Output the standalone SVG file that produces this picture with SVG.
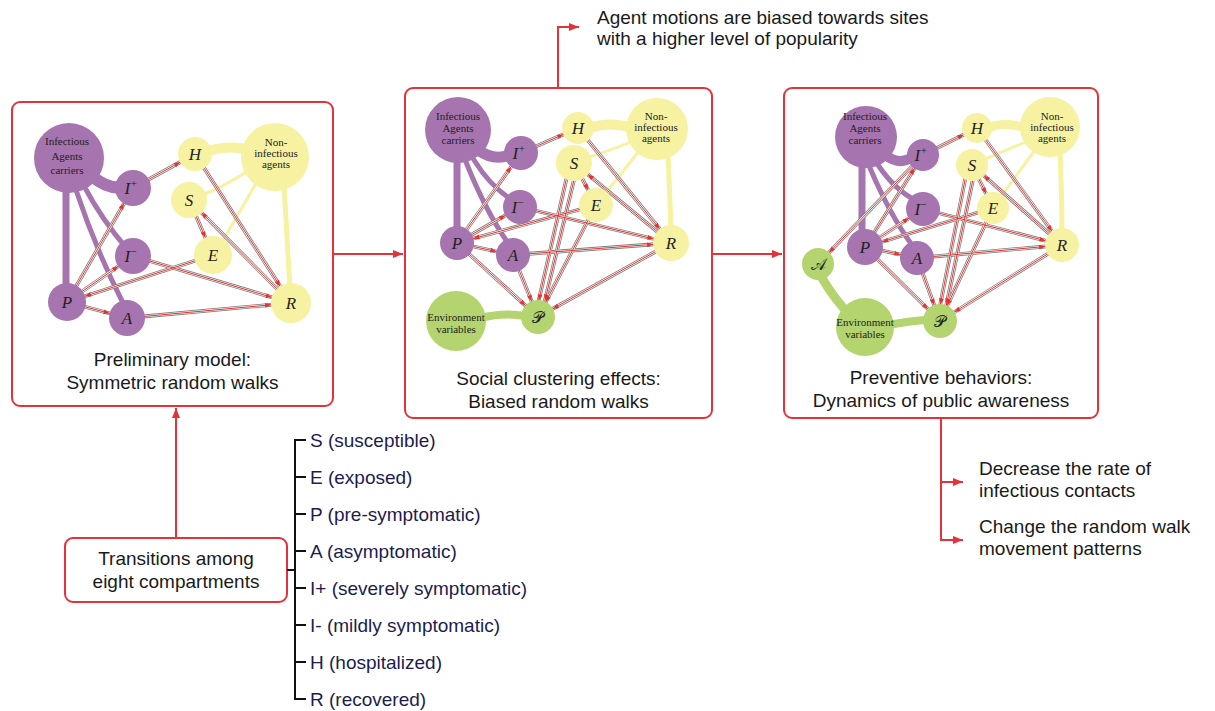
<svg xmlns="http://www.w3.org/2000/svg" width="1215" height="711" viewBox="0 0 1215 711">
<defs>
<style>
.panel{fill:#fff;stroke:#e5323a;stroke-width:2}
.flow{fill:none;stroke:#e5323a;stroke-width:2}
.brk{fill:none;stroke:#111;stroke-width:2}
.cap{font-family:"Liberation Sans",Arial,sans-serif;font-size:19px;fill:#1a1a1a;text-anchor:middle}
.note{font-family:"Liberation Sans",Arial,sans-serif;font-size:19px;fill:#1a1a1a}
.lst{font-family:"Liberation Sans",Arial,sans-serif;font-size:19px;fill:#1c1c4f}
.pu{fill:#a674ae}.ye{fill:#f6f2a2}.gr{fill:#b4d46f}
.lk{fill:none;stroke-linecap:round}
.lpu{stroke:#a674ae}.lye{stroke:#f6f2a2}.lgr{stroke:#b4d46f}
.eg{fill:none;stroke:#7d7d7d;stroke-width:3.8}
.ew{fill:none;stroke:#fff;stroke-width:2.2}
.er{fill:none;stroke:#e8302c;stroke-width:1}
.nl{font-family:"Liberation Serif","Times New Roman",serif;font-style:italic;font-size:17px;fill:#222;text-anchor:middle}
.sup{font-size:11px}
.sc{font-family:"DejaVu Serif","Liberation Serif",serif;font-size:16px;fill:#222;text-anchor:middle}
.gl{font-family:"Liberation Serif","Times New Roman",serif;font-size:11px;fill:#222;text-anchor:middle}
</style>
<marker id="ah" markerUnits="userSpaceOnUse" markerWidth="12" markerHeight="10" refX="10" refY="5" orient="auto"><path d="M0,1 L10,5 L0,9 z" fill="#e5323a"/></marker>
<marker id="m15" markerUnits="userSpaceOnUse" orient="auto" refX="15" refY="0" style="overflow:visible"><path d="M-6,-2.4 L0,0 L-6,2.4 z" fill="#e8302c"/></marker>
<marker id="m16" markerUnits="userSpaceOnUse" orient="auto" refX="16" refY="0" style="overflow:visible"><path d="M-6,-2.4 L0,0 L-6,2.4 z" fill="#e8302c"/></marker>
<marker id="m17" markerUnits="userSpaceOnUse" orient="auto" refX="17" refY="0" style="overflow:visible"><path d="M-6,-2.4 L0,0 L-6,2.4 z" fill="#e8302c"/></marker>
<marker id="m18" markerUnits="userSpaceOnUse" orient="auto" refX="18" refY="0" style="overflow:visible"><path d="M-6,-2.4 L0,0 L-6,2.4 z" fill="#e8302c"/></marker>
<marker id="m19" markerUnits="userSpaceOnUse" orient="auto" refX="19" refY="0" style="overflow:visible"><path d="M-6,-2.4 L0,0 L-6,2.4 z" fill="#e8302c"/></marker>
<marker id="m20" markerUnits="userSpaceOnUse" orient="auto" refX="20" refY="0" style="overflow:visible"><path d="M-6,-2.4 L0,0 L-6,2.4 z" fill="#e8302c"/></marker>
<!-- panel 1 edges -->
<path id="a1" d="M133,188 L195,154"/>
<path id="a2" d="M67,302 L133,188"/>
<path id="a3" d="M67,302 L133,256"/>
<path id="a4" d="M213,255 L67,302"/>
<path id="a5" d="M67,302 L127,318"/>
<path id="a6" d="M127,318 L291,303"/>
<path id="a7" d="M133,256 L291,303"/>
<path id="a8" d="M195,154 L291,303"/>
<path id="a9" d="M291,303 L189,200"/>
<path id="a10" d="M189,200 L213,255"/>
<!-- panel 2 edges -->
<path id="b1" d="M521,153 L578,128"/>
<path id="b2" d="M457,243 L521,153"/>
<path id="b3" d="M457,243 L520,207"/>
<path id="b4" d="M596,205 L457,243"/>
<path id="b5" d="M457,243 L513,255"/>
<path id="b6" d="M513,255 L671,243"/>
<path id="b7" d="M520,207 L671,243"/>
<path id="b8" d="M578,128 L671,243"/>
<path id="b9" d="M671,243 L574,163"/>
<path id="b10" d="M574,163 L596,205"/>
<path id="b11" d="M457,243 L538,317"/>
<path id="b12" d="M513,255 L538,317"/>
<path id="b13" d="M570,163 L535,317"/>
<path id="b14" d="M596,205 L538,317"/>
<path id="b15" d="M671,243 L538,317"/>
<path id="b16" d="M578,163 L541,317"/>
<!-- panel 3 edges -->
<path id="c1" d="M923,155 L977,128"/>
<path id="c2" d="M865,247 L923,155"/>
<path id="c3" d="M865,247 L923,209"/>
<path id="c4" d="M993,208 L865,247"/>
<path id="c5" d="M865,247 L917,258"/>
<path id="c6" d="M917,258 L1062,245"/>
<path id="c7" d="M923,209 L1062,245"/>
<path id="c8" d="M977,128 L1062,245"/>
<path id="c9" d="M1062,245 L972,165"/>
<path id="c10" d="M972,165 L993,208"/>
<path id="c11" d="M865,247 L940,321"/>
<path id="c12" d="M917,258 L940,321"/>
<path id="c13" d="M968,165 L937,321"/>
<path id="c14" d="M993,208 L940,321"/>
<path id="c15" d="M1062,245 L940,321"/>
<path id="c16" d="M923,155 L818,264"/>
<path id="c17" d="M976,165 L943,321"/>
</defs>

<rect width="1215" height="711" fill="#fff"/>

<!-- panels -->
<g id="panel1">
<rect class="panel" x="12" y="102" width="321" height="304" rx="8"/>
<text class="cap" x="172.5" y="366">Preliminary model:</text>
<text class="cap" x="172.5" y="389">Symmetric random walks</text>
</g>
<g id="panel2">
<rect class="panel" x="405" y="88" width="307" height="330" rx="8"/>
<text class="cap" x="558.5" y="385">Social clustering effects:</text>
<text class="cap" x="558.5" y="408">Biased random walks</text>
</g>
<g id="panel3">
<rect class="panel" x="784" y="88" width="314" height="330" rx="8"/>
<text class="cap" x="941" y="384">Preventive behaviors:</text>
<text class="cap" x="941" y="407">Dynamics of public awareness</text>
</g>

<!-- group links (blobs) -->
<g id="blob-links" class="lk">
<path class="lpu" stroke-width="12" d="M92,176 Q110,192 130,186"/>
<path class="lpu" stroke-width="7" d="M66,185 L66,290"/>
<path class="lpu" stroke-width="5" d="M84,186 Q102,220 128,250"/>
<path class="lpu" stroke-width="5" d="M76,190 Q96,250 124,305"/>
<path class="lye" stroke-width="10" d="M250,150 Q228,144 205,152"/>
<path class="lye" stroke-width="3" d="M252,168 Q226,186 200,196"/>
<path class="lye" stroke-width="3" d="M258,180 L222,242"/>
<path class="lye" stroke-width="5" d="M284,185 Q287,240 290,290"/>

<path class="lpu" stroke-width="11" d="M478,150 Q495,162 512,154"/>
<path class="lpu" stroke-width="7" d="M457,160 L457,230"/>
<path class="lpu" stroke-width="5" d="M474,160 Q490,186 512,200"/>
<path class="lpu" stroke-width="5" d="M466,162 Q485,210 508,243"/>
<path class="lye" stroke-width="10" d="M632,128 Q610,121 590,128"/>
<path class="lye" stroke-width="3" d="M635,140 Q610,151 585,158"/>
<path class="lye" stroke-width="3" d="M640,150 L604,195"/>
<path class="lye" stroke-width="5" d="M668,155 Q670,200 671,230"/>
<path class="lgr" stroke-width="8" d="M480,318 Q505,312 525,316"/>

<path class="lpu" stroke-width="10" d="M885,155 Q900,166 912,157"/>
<path class="lpu" stroke-width="7" d="M862,165 L862,232"/>
<path class="lpu" stroke-width="5" d="M878,165 Q895,190 915,200"/>
<path class="lpu" stroke-width="5" d="M870,168 Q890,215 912,245"/>
<path class="lye" stroke-width="9" d="M1025,128 Q1005,121 988,128"/>
<path class="lye" stroke-width="3" d="M1030,140 Q1005,151 983,160"/>
<path class="lye" stroke-width="3" d="M1035,150 L1000,198"/>
<path class="lye" stroke-width="5" d="M1060,152 Q1062,200 1062,232"/>
<path class="lgr" stroke-width="9" d="M822,278 Q835,300 850,315"/>
<path class="lgr" stroke-width="8" d="M888,325 Q910,321 925,320"/>
</g>

<!-- transition edges -->
<g id="edges">
<g class="eg">
<use href="#a1"/><use href="#a2"/><use href="#a3"/><use href="#a4"/><use href="#a5"/><use href="#a6"/><use href="#a7"/><use href="#a8"/><use href="#a9"/><use href="#a10"/>
<use href="#b1"/><use href="#b2"/><use href="#b3"/><use href="#b4"/><use href="#b5"/><use href="#b6"/><use href="#b7"/><use href="#b8"/><use href="#b9"/><use href="#b10"/><use href="#b11"/><use href="#b12"/><use href="#b13"/><use href="#b14"/><use href="#b15"/><use href="#b16"/>
<use href="#c1"/><use href="#c2"/><use href="#c3"/><use href="#c4"/><use href="#c5"/><use href="#c6"/><use href="#c7"/><use href="#c8"/><use href="#c9"/><use href="#c10"/><use href="#c11"/><use href="#c12"/><use href="#c13"/><use href="#c14"/><use href="#c15"/><use href="#c16"/><use href="#c17"/>
</g>
<g class="ew">
<use href="#a1"/><use href="#a2"/><use href="#a3"/><use href="#a4"/><use href="#a5"/><use href="#a6"/><use href="#a7"/><use href="#a8"/><use href="#a9"/><use href="#a10"/>
<use href="#b1"/><use href="#b2"/><use href="#b3"/><use href="#b4"/><use href="#b5"/><use href="#b6"/><use href="#b7"/><use href="#b8"/><use href="#b9"/><use href="#b10"/><use href="#b11"/><use href="#b12"/><use href="#b13"/><use href="#b14"/><use href="#b15"/><use href="#b16"/>
<use href="#c1"/><use href="#c2"/><use href="#c3"/><use href="#c4"/><use href="#c5"/><use href="#c6"/><use href="#c7"/><use href="#c8"/><use href="#c9"/><use href="#c10"/><use href="#c11"/><use href="#c12"/><use href="#c13"/><use href="#c14"/><use href="#c15"/><use href="#c16"/><use href="#c17"/>
</g>
<g class="er">
<use href="#a1" marker-end="url(#m17)"/><use href="#a2" marker-end="url(#m18)"/><use href="#a3" marker-end="url(#m18)"/><use href="#a4" marker-end="url(#m19)"/><use href="#a5" marker-end="url(#m18)"/><use href="#a6" marker-end="url(#m20)"/><use href="#a7" marker-end="url(#m20)"/><use href="#a8" marker-end="url(#m20)"/><use href="#a9" marker-end="url(#m18)"/><use href="#a10" marker-end="url(#m19)"/>
<use href="#b1" marker-end="url(#m16)"/><use href="#b2" marker-end="url(#m17)"/><use href="#b3" marker-end="url(#m17)"/><use href="#b4" marker-end="url(#m17)"/><use href="#b5" marker-end="url(#m17)"/><use href="#b6" marker-end="url(#m18)"/><use href="#b7" marker-end="url(#m18)"/><use href="#b8" marker-end="url(#m18)"/><use href="#b9" marker-end="url(#m18)"/><use href="#b10" marker-end="url(#m17)"/><use href="#b11" marker-end="url(#m17)"/><use href="#b12" marker-end="url(#m17)"/><use href="#b13" marker-end="url(#m17)"/><use href="#b14" marker-end="url(#m17)"/><use href="#b15" marker-end="url(#m17)"/><use href="#b16" marker-end="url(#m17)"/>
<use href="#c1" marker-end="url(#m15)"/><use href="#c2" marker-end="url(#m16)"/><use href="#c3" marker-end="url(#m17)"/><use href="#c4" marker-end="url(#m18)"/><use href="#c5" marker-end="url(#m17)"/><use href="#c6" marker-end="url(#m17)"/><use href="#c7" marker-end="url(#m17)"/><use href="#c8" marker-end="url(#m17)"/><use href="#c9" marker-end="url(#m16)"/><use href="#c10" marker-end="url(#m16)"/><use href="#c11" marker-end="url(#m17)"/><use href="#c12" marker-end="url(#m17)"/><use href="#c13" marker-end="url(#m17)"/><use href="#c14" marker-end="url(#m17)"/><use href="#c15" marker-end="url(#m17)"/><use href="#c16" marker-end="url(#m16)"/><use href="#c17" marker-end="url(#m17)"/>
</g>
</g>

<!-- panel 1 nodes -->
<g id="p1-carriers"><circle class="pu" cx="69" cy="158" r="35"/><text class="gl" x="67" y="145" font-size="12">Infectious</text><text class="gl" x="67" y="160" font-size="12">Agents</text><text class="gl" x="67" y="174" font-size="12">carriers</text></g>
<g id="p1-Iplus"><circle class="pu" cx="133" cy="188" r="18"/><text class="nl" x="131" y="194">I<tspan class="sup" dy="-7">+</tspan></text></g>
<g id="p1-Iminus"><circle class="pu" cx="133" cy="256" r="18"/><text class="nl" x="131" y="262">I<tspan class="sup" dy="-7">−</tspan></text></g>
<g id="p1-P"><circle class="pu" cx="67" cy="302" r="19"/><text class="nl" x="67" y="308">P</text></g>
<g id="p1-A"><circle class="pu" cx="127" cy="318" r="18"/><text class="nl" x="127" y="324">A</text></g>
<g id="p1-H"><circle class="ye" cx="195" cy="154" r="17"/><text class="nl" x="195" y="160">H</text></g>
<g id="p1-S"><circle class="ye" cx="189" cy="200" r="18"/><text class="nl" x="189" y="206">S</text></g>
<g id="p1-E"><circle class="ye" cx="213" cy="255" r="19"/><text class="nl" x="213" y="261">E</text></g>
<g id="p1-R"><circle class="ye" cx="291" cy="303" r="20"/><text class="nl" x="291" y="309">R</text></g>
<g id="p1-noninf"><circle class="ye" cx="275" cy="157" r="34"/><text class="gl" x="276" y="146" font-size="12">Non-</text><text class="gl" x="276" y="157" font-size="12">infectious</text><text class="gl" x="276" y="168" font-size="12">agents</text></g>

<!-- panel 2 nodes -->
<g id="p2-carriers"><circle class="pu" cx="458" cy="130" r="33"/><text class="gl" x="458" y="120">Infectious</text><text class="gl" x="458" y="132">Agents</text><text class="gl" x="458" y="144">carriers</text></g>
<g id="p2-Iplus"><circle class="pu" cx="521" cy="153" r="17"/><text class="nl" x="519" y="159">I<tspan class="sup" dy="-7">+</tspan></text></g>
<g id="p2-Iminus"><circle class="pu" cx="520" cy="207" r="17"/><text class="nl" x="518" y="213">I<tspan class="sup" dy="-7">−</tspan></text></g>
<g id="p2-P"><circle class="pu" cx="457" cy="243" r="17"/><text class="nl" x="457" y="249">P</text></g>
<g id="p2-A"><circle class="pu" cx="513" cy="255" r="17"/><text class="nl" x="513" y="261">A</text></g>
<g id="p2-H"><circle class="ye" cx="578" cy="128" r="16"/><text class="nl" x="578" y="134">H</text></g>
<g id="p2-S"><circle class="ye" cx="574" cy="163" r="18"/><text class="nl" x="574" y="169">S</text></g>
<g id="p2-E"><circle class="ye" cx="596" cy="205" r="17"/><text class="nl" x="596" y="211">E</text></g>
<g id="p2-R"><circle class="ye" cx="671" cy="243" r="18"/><text class="nl" x="671" y="249">R</text></g>
<g id="p2-noninf"><circle class="ye" cx="657" cy="129" r="31"/><text class="gl" x="656" y="120">Non-</text><text class="gl" x="656" y="131">infectious</text><text class="gl" x="656" y="142">agents</text></g>
<g id="p2-Pscript"><circle class="gr" cx="538" cy="317" r="17"/><text class="sc" x="538" y="323">𝒫</text></g>
<g id="p2-env"><circle class="gr" cx="456" cy="321" r="30"/><text class="gl" x="456" y="321">Environment</text><text class="gl" x="456" y="333">variables</text></g>

<!-- panel 3 nodes -->
<g id="p3-carriers"><circle class="pu" cx="866" cy="137" r="31"/><text class="gl" x="865" y="120">Infectious</text><text class="gl" x="865" y="132">Agents</text><text class="gl" x="865" y="144">carriers</text></g>
<g id="p3-Iplus"><circle class="pu" cx="923" cy="155" r="16"/><text class="nl" x="921" y="161">I<tspan class="sup" dy="-7">+</tspan></text></g>
<g id="p3-Iminus"><circle class="pu" cx="923" cy="209" r="17"/><text class="nl" x="921" y="215">I<tspan class="sup" dy="-7">−</tspan></text></g>
<g id="p3-P"><circle class="pu" cx="865" cy="247" r="18"/><text class="nl" x="865" y="253">P</text></g>
<g id="p3-A"><circle class="pu" cx="917" cy="258" r="17"/><text class="nl" x="917" y="264">A</text></g>
<g id="p3-H"><circle class="ye" cx="977" cy="128" r="15"/><text class="nl" x="977" y="134">H</text></g>
<g id="p3-S"><circle class="ye" cx="972" cy="165" r="16"/><text class="nl" x="972" y="171">S</text></g>
<g id="p3-E"><circle class="ye" cx="993" cy="208" r="16"/><text class="nl" x="993" y="214">E</text></g>
<g id="p3-R"><circle class="ye" cx="1062" cy="245" r="17"/><text class="nl" x="1062" y="251">R</text></g>
<g id="p3-noninf"><circle class="ye" cx="1050" cy="127" r="30"/><text class="gl" x="1052" y="120">Non-</text><text class="gl" x="1052" y="131">infectious</text><text class="gl" x="1052" y="142">agents</text></g>
<g id="p3-Ascript"><circle class="gr" cx="818" cy="264" r="16"/><text class="sc" x="818" y="270">𝒜</text></g>
<g id="p3-Pscript"><circle class="gr" cx="940" cy="321" r="17"/><text class="sc" x="940" y="327">𝒫</text></g>
<g id="p3-env"><circle class="gr" cx="865" cy="327" r="29"/><text class="gl" x="865" y="326">Environment</text><text class="gl" x="865" y="338">variables</text></g>

<!-- annotations -->
<g id="note-top"><text class="note" x="597" y="24">Agent motions are biased towards sites</text><text class="note" x="597" y="45">with a higher level of popularity</text></g>
<g id="note-right"><text class="note" x="979" y="475">Decrease the rate of</text><text class="note" x="979" y="497">infectious contacts</text><text class="note" x="979" y="533">Change the random walk</text><text class="note" x="979" y="555">movement patterns</text></g>
<g id="transitions-box"><rect class="panel" x="65" y="538" width="222" height="64" rx="8"/><text class="cap" x="176" y="565">Transitions among</text><text class="cap" x="176" y="588">eight compartments</text></g>
<g id="compartment-list">
<text class="lst" x="310" y="447">S (susceptible)</text>
<text class="lst" x="310" y="484">E (exposed)</text>
<text class="lst" x="310" y="521">P (pre-symptomatic)</text>
<text class="lst" x="310" y="558">A (asymptomatic)</text>
<text class="lst" x="310" y="595">I+ (severely symptomatic)</text>
<text class="lst" x="310" y="632">I- (mildly symptomatic)</text>
<text class="lst" x="310" y="669">H (hospitalized)</text>
<text class="lst" x="310" y="706">R (recovered)</text>
</g>

<!-- connectors -->
<g id="connectors">
<path class="flow" d="M333,254 L403,254" marker-end="url(#ah)"/>
<path class="flow" d="M712,254 L782,254" marker-end="url(#ah)"/>
<path class="flow" d="M176,538 L176,408" marker-end="url(#ah)"/>
<path class="flow" d="M558,88 L558,27 L579,27" marker-end="url(#ah)"/>
<path class="flow" d="M941,418 L941,540"/>
<path class="flow" d="M940,482 L963,482" marker-end="url(#ah)"/>
<path class="flow" d="M940,540 L963,540" marker-end="url(#ah)"/>
<path class="brk" d="M287,570 L295,570"/>
<path class="brk" d="M306,440 L295,440 L295,699 L306,699 M295,477 L306,477 M295,514 L306,514 M295,551 L306,551 M295,588 L306,588 M295,625 L306,625 M295,662 L306,662"/>
</g>
</svg>
